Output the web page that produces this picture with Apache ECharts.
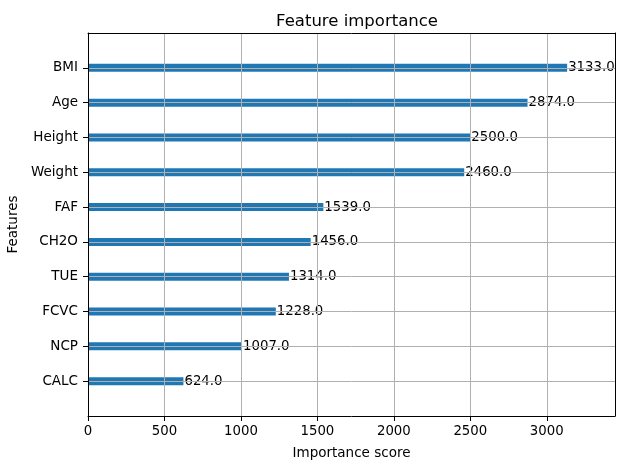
<!DOCTYPE html>
<html><head><meta charset="utf-8">
<script src="https://cdn.jsdelivr.net/npm/echarts@6/dist/echarts.min.js"></script>
<style>html,body{margin:0;padding:0;background:#fff}#c{width:627px;height:470px}</style>
</head><body><div id="c"></div>
<script>
const categories = ['', 'CALC', 'NCP', 'FCVC', 'TUE', 'CH2O', 'FAF', 'Weight', 'Height', 'Age', 'BMI', ''];
const scores = [null, 624, 1007, 1228, 1314, 1456, 1539, 2460, 2500, 2874, 3133, null];
const xTicks = [0, 500, 1000, 1500, 2000, 2500, 3000];
const xMax = 3446;

const font = 'DejaVu Sans';
const frameAxis = {
  show: true, z: 6,
  axisLine: {show: true, onZero: false, lineStyle: {color: '#000', width: 1}},
  axisTick: {show: false}, axisLabel: {show: false}, splitLine: {show: false}
};
const chart = echarts.init(document.getElementById('c'), null, {renderer: 'canvas'});
chart.setOption({
  animation: false,
  backgroundColor: '#fff',
  title: {
    text: 'Feature importance', left: 352, top: 8, textAlign: 'center',
    textStyle: {fontFamily: font, fontSize: 16.5, fontWeight: 'normal', color: '#000'}
  },
  grid: {left: 88, right: 12, top: 33, bottom: 54, containLabel: false, outerBoundsMode: 'none'},
  xAxis: [{
    type: 'value', min: 0, max: xMax, interval: 500, z: 5,
    name: 'Importance score', nameLocation: 'middle', nameGap: 30,
    nameTextStyle: {fontFamily: font, fontSize: 13.5, color: '#000'},
    axisLine: {show: true, lineStyle: {color: '#000', width: 1}},
    axisTick: {show: true, length: 5, lineStyle: {color: '#000'}, customValues: xTicks},
    axisLabel: {fontFamily: font, fontSize: 13.3, color: '#000', margin: 9, customValues: xTicks,
      formatter: v => String(v)},
    splitLine: {show: true, lineStyle: {color: '#b0b0b0', width: 1}}
  }, Object.assign({type: 'value', position: 'top', min: 0, max: xMax}, frameAxis)],
  yAxis: [{
    type: 'category', data: categories, boundaryGap: false, z: 5,
    name: 'Features', nameLocation: 'middle', nameGap: 61, nameRotate: 90,
    nameTextStyle: {fontFamily: font, fontSize: 13.5, color: '#000'},
    axisLine: {show: true, lineStyle: {color: '#000', width: 1}},
    axisTick: {show: true, length: 5, lineStyle: {color: '#000'}, interval: (i, v) => v !== ''},
    axisLabel: {fontFamily: font, fontSize: 13.5, color: '#000', margin: 10, interval: (i, v) => v !== ''},
    splitLine: {show: true, interval: (i, v) => v !== '', lineStyle: {color: '#b0b0b0', width: 1}}
  }, Object.assign({type: 'category', data: categories, boundaryGap: false, position: 'right'}, frameAxis)],
  series: [{
    type: 'bar', data: scores, barWidth: 8, z: 2,
    itemStyle: {color: '#1f77b4'},
    label: {show: true, position: 'right', distance: 1, fontFamily: font, fontSize: 13.3, color: '#000',
      formatter: p => p.value == null ? '' : Number(p.value).toFixed(1)}
  }]
});
</script></body></html>
